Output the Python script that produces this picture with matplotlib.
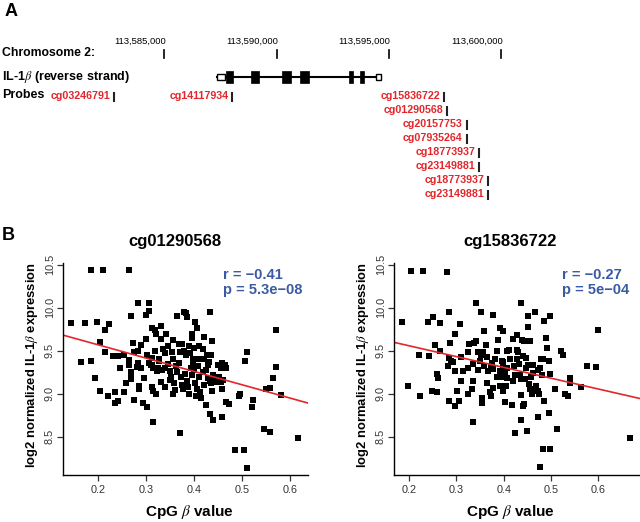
import numpy as np
import matplotlib
matplotlib.use('Agg')
import matplotlib.pyplot as plt
from matplotlib.patches import Rectangle

plt.rcParams['font.family'] = ['Liberation Sans', 'DejaVu Sans']
plt.rcParams['mathtext.fontset'] = 'stix'

# ---- panel A data ----
ruler_ticks = [113585000, 113590000, 113595000, 113600000]
gene_start, gene_end = 113587346, 113594648
utr_boxes = [(113587346, 113587703), (113594426, 113594648)]
exons = [(113587747, 113588059), (113588860, 113589216), (113590240, 113590641),
         (113591042, 113591443), (113593224, 113593402), (113593713, 113593891)]
probe_names = ['cg03246791', 'cg14117934', 'cg15836722', 'cg01290568', 'cg20157753',
               'cg07935264', 'cg18773937', 'cg23149881', 'cg18773937', 'cg23149881']
probe_pos = [113582774, 113588027, 113597452, 113597599, 113598463,
             113598463, 113599024, 113599024, 113599424, 113599424]
probe_row = [0, 0, 0, 1, 2, 3, 4, 5, 6, 7]

# ---- panel B data: cg01290568 ----
x1 = [0.186, 0.210, 0.265, 0.283, 0.305, 0.307, 0.268, 0.300, 0.144, 0.172,
      0.198, 0.222, 0.215, 0.312, 0.318, 0.330, 0.321, 0.331, 0.342, 0.300,
      0.355, 0.364, 0.379, 0.383, 0.386, 0.402, 0.406, 0.395, 0.396, 0.420,
      0.438, 0.432, 0.570, 0.204, 0.272, 0.290, 0.214, 0.232, 0.242, 0.275,
      0.283, 0.301, 0.312, 0.327, 0.340, 0.353, 0.368, 0.371, 0.375, 0.379,
      0.384, 0.392, 0.397, 0.405, 0.413, 0.421, 0.427, 0.428, 0.458, 0.465,
      0.467, 0.510, 0.506, 0.571, 0.165, 0.185, 0.264, 0.264, 0.284, 0.312,
      0.315, 0.324, 0.339, 0.311, 0.322, 0.334, 0.194, 0.204, 0.221, 0.235,
      0.235, 0.242, 0.253, 0.258, 0.269, 0.269, 0.269, 0.275, 0.285, 0.285,
      0.282, 0.293, 0.302, 0.314, 0.312, 0.315, 0.321, 0.349, 0.351, 0.355,
      0.359, 0.370, 0.372, 0.374, 0.376, 0.425, 0.433, 0.440, 0.458, 0.466,
      0.472, 0.494, 0.496, 0.522, 0.521, 0.546, 0.558, 0.616, 0.484, 0.503,
      0.510, 0.550, 0.557, 0.564, 0.580, 0.459, 0.460, 0.456, 0.380, 0.385,
      0.388, 0.390, 0.393, 0.395, 0.398, 0.400, 0.402, 0.403, 0.405, 0.407,
      0.410, 0.412, 0.414, 0.418, 0.420, 0.425, 0.428, 0.430, 0.432, 0.435,
      0.438, 0.440, 0.445, 0.448, 0.450, 0.452, 0.455, 0.345, 0.350, 0.357,
      0.362, 0.365, 0.368, 0.360, 0.340, 0.330, 0.326, 0.318, 0.305, 0.290,
      0.296, 0.255, 0.246, 0.435, 0.418, 0.410, 0.400, 0.390, 0.345, 0.335]
y1 = [10.44, 10.44, 10.44, 10.06, 10.06, 9.96, 9.90, 9.92, 9.82, 9.82,
      9.84, 9.81, 9.74, 9.77, 9.74, 9.79, 9.69, 9.64, 9.70, 9.64,
      9.62, 9.90, 9.95, 9.94, 9.89, 9.84, 9.76, 9.69, 9.65, 9.66,
      9.61, 9.95, 9.74, 9.60, 9.59, 9.57, 9.49, 9.44, 9.44, 9.48,
      9.50, 9.45, 9.42, 9.40, 9.47, 9.49, 9.58, 9.49, 9.58, 9.50,
      9.45, 9.47, 9.40, 9.40, 9.40, 9.41, 9.45, 9.33, 9.36, 9.33,
      9.30, 9.49, 9.38, 9.31, 9.37, 9.38, 9.39, 9.33, 9.36, 9.33,
      9.30, 9.30, 9.30, 9.34, 9.26, 9.28, 9.18, 9.03, 8.98, 9.02,
      8.89, 8.92, 9.02, 9.13, 9.17, 9.21, 9.25, 8.93, 9.05, 9.09,
      9.31, 8.89, 8.85, 8.67, 9.08, 9.03, 9.00, 9.16, 9.20, 9.00,
      9.12, 8.54, 9.20, 9.10, 9.06, 8.87, 8.77, 8.70, 8.73, 8.91,
      8.88, 8.97, 9.00, 8.93, 8.85, 8.59, 8.56, 8.49, 8.35, 8.35,
      8.14, 9.06, 9.07, 9.18, 8.99, 9.05, 9.16, 9.30, 9.23, 9.15,
      9.08, 9.00, 9.30, 9.22, 9.35, 9.28, 9.12, 8.97, 9.05, 9.32,
      9.20, 9.02, 8.95, 9.25, 9.10, 9.28, 9.18, 9.37, 9.15, 9.12,
      9.03, 9.22, 9.17, 9.14, 9.33, 9.19, 9.14, 9.35, 9.26, 9.40,
      9.32, 9.25, 9.36, 9.04, 9.08, 9.14, 9.38, 9.50, 9.36, 9.30,
      9.18, 9.45, 9.30, 9.45, 9.52, 9.55, 9.53, 9.56, 9.55, 9.52]

# ---- panel B data: cg15836722 ----
x2 = [0.204, 0.229, 0.281, 0.185, 0.198, 0.223, 0.220, 0.243, 0.250, 0.240,
      0.265, 0.285, 0.255, 0.248, 0.258, 0.259, 0.260, 0.266, 0.287, 0.297,
      0.307, 0.284, 0.288, 0.292, 0.282, 0.297, 0.310, 0.285, 0.296, 0.306,
      0.301, 0.310, 0.324, 0.332, 0.325, 0.326, 0.334, 0.335, 0.337, 0.342,
      0.341, 0.351, 0.346, 0.352, 0.356, 0.345, 0.353, 0.355, 0.358, 0.359,
      0.362, 0.365, 0.371, 0.372, 0.376, 0.374, 0.378, 0.381, 0.385, 0.388,
      0.392, 0.392, 0.396, 0.398, 0.396, 0.399, 0.398, 0.402, 0.398, 0.402,
      0.406, 0.405, 0.412, 0.417, 0.419, 0.421, 0.424, 0.420, 0.424, 0.427,
      0.431, 0.429, 0.433, 0.429, 0.434, 0.437, 0.436, 0.438, 0.443, 0.436,
      0.437, 0.440, 0.442, 0.448, 0.452, 0.448, 0.450, 0.452, 0.452, 0.454,
      0.455, 0.459, 0.455, 0.457, 0.461, 0.462, 0.465, 0.466, 0.469, 0.472,
      0.475, 0.473, 0.476, 0.473, 0.476, 0.478, 0.482, 0.480, 0.484, 0.497,
      0.486, 0.486, 0.489, 0.491, 0.495, 0.498, 0.496, 0.498, 0.509, 0.512,
      0.520, 0.526, 0.529, 0.536, 0.540, 0.541, 0.563, 0.575, 0.596, 0.599,
      0.666, 0.325, 0.314, 0.335, 0.364, 0.367, 0.378, 0.385, 0.392, 0.407,
      0.413, 0.441, 0.445, 0.406, 0.378, 0.350]
y2 = [10.43, 10.43, 10.42, 9.83, 9.09, 8.97, 9.45, 9.44, 9.89, 9.84,
      9.82, 9.95, 9.57, 9.03, 9.02, 9.23, 9.18, 9.50, 9.59, 9.70,
      9.81, 9.42, 9.38, 9.37, 9.32, 9.27, 9.43, 8.92, 8.86, 8.92,
      9.03, 9.15, 9.00, 9.05, 9.48, 9.58, 9.15, 8.67, 9.59, 9.61,
      10.05, 9.95, 9.48, 9.45, 9.49, 9.28, 8.95, 8.89, 9.73, 9.32,
      9.57, 9.12, 9.02, 9.31, 9.36, 8.97, 9.92, 9.41, 9.50, 9.63,
      9.77, 9.09, 9.20, 9.73, 9.38, 9.37, 9.30, 9.24, 9.03, 8.90,
      9.18, 9.09, 9.51, 8.87, 9.64, 9.32, 9.22, 9.15, 8.54, 9.51,
      9.49, 9.40, 9.35, 9.68, 9.22, 9.17, 8.99, 9.63, 9.61, 10.05,
      8.70, 8.86, 8.88, 9.30, 9.33, 9.42, 8.57, 9.90, 9.78, 9.11,
      9.05, 9.00, 9.61, 9.20, 9.24, 9.34, 9.95, 9.06, 9.09, 9.03,
      9.00, 9.28, 9.30, 8.73, 8.15, 9.41, 9.41, 9.22, 8.36, 8.36,
      8.92, 9.85, 9.65, 9.53, 9.38, 9.90, 8.78, 9.23, 9.05, 8.59,
      9.50, 9.45, 9.00, 8.98, 9.18, 9.12, 9.08, 9.32, 9.31, 9.74,
      8.49, 9.30, 9.27, 9.35, 9.43, 9.27, 9.29, 9.20, 9.26, 9.30,
      9.40, 9.44, 9.17, 9.50, 9.07, 9.38]

titles = ['cg01290568', 'cg15836722']
r_labels = ['r = \u22120.41', 'r = \u22120.27']
p_labels = ['p = 5.3e\u221208', 'p = 5e\u221204']
yticks = [8.5, 9.0, 9.5, 10.0, 10.5]
xticks = [0.2, 0.3, 0.4, 0.5, 0.6]

red = '#e3262c'
blue = '#3a5ba3'
W, H = 640, 522

fig = plt.figure(figsize=(W / 100, H / 100), dpi=100)

# ---------------- panel A ----------------
bp_per_px = 5000 / 112.3
x_left = ruler_ticks[0] - 164.3 * bp_per_px
ax = fig.add_axes([0, 1 - 210 / H, 1, 210 / H])
ax.set_xlim(x_left, x_left + W * bp_per_px)
ax.set_ylim(210, 0)
ax.axis('off')

fig.text(5 / W, 1 - 12 / H, 'A', fontsize=13, fontweight='bold', va='center')
lab_tr = ax.get_yaxis_transform()
ax.text(0.003, 53, 'Chromosome 2:', transform=lab_tr, fontsize=8.8,
        fontweight='bold', va='center')
ax.text(0.003, 77, 'IL-1$\\beta$ (reverse strand)', transform=lab_tr, fontsize=9,
        fontweight='bold', va='center')
ax.text(0.003, 95, 'Probes', transform=lab_tr, fontsize=9,
        fontweight='bold', va='center')

for p in ruler_ticks:
    ax.plot([p, p], [50, 57.5], color='black', lw=1.2)
    ax.text(p + 60, 41, f'{p:,}', ha='right', va='center', fontsize=6.8)

ax.plot([gene_start, gene_end], [77, 77], color='black', lw=1.5, zorder=1)
for s, e in exons:
    ax.add_patch(Rectangle((s, 71), e - s, 12, fc='black', ec='black', lw=0.5, zorder=2))
for s, e in utr_boxes:
    ax.add_patch(Rectangle((s, 74), e - s, 6, fc='white', ec='black', lw=1, zorder=2))

for name, pos, row in zip(probe_names, probe_pos, probe_row):
    yc = 96.7 + row * 14.1
    ax.plot([pos, pos], [yc - 4, yc + 4], color='#222222', lw=1.5)
    ax.text(pos - 4 * bp_per_px, yc - 1, name, ha='right', va='center',
            fontsize=7.7, fontweight='bold', color=red)

# ---------------- panel B ----------------
fig.text(2 / W, 1 - 235 / H, 'B', fontsize=13, fontweight='bold', va='center')

panels = [
    (x1, y1, [63 / W, 47 / H, 245 / W, 212 / H], (0.127, 0.637), 0.457, 0.652, 0.515),
    (x2, y2, [394 / W, 47 / H, 246 / W, 212 / H], (0.168, 0.688), 0.472, 0.683, 0.472),
]

for i, (xs, ys, rect, xlim, tx, sx, xlx) in enumerate(panels):
    a = fig.add_axes(rect)
    xs = np.array(xs)
    ys = np.array(ys)
    a.plot(xs, ys, 's', ms=3.7, color='black', mew=0)
    slope, icpt = np.polyfit(xs, ys, 1)
    lx = np.array(xlim)
    a.plot(lx, icpt + slope * lx, color=red, lw=1.2)
    a.set_xlim(*xlim)
    a.set_ylim(8.056, 10.52)
    for sp in ['top', 'right']:
        a.spines[sp].set_visible(False)
    for sp in ['left', 'bottom']:
        a.spines[sp].set_linewidth(1.0)
    a.set_xticks(xticks)
    a.set_xticklabels([f'{v:.1f}' for v in xticks])
    a.set_yticks(yticks)
    a.set_yticklabels([f'{v:.1f}' for v in yticks], rotation=90, va='center')
    a.tick_params(length=4, width=0.9, labelsize=7.8, pad=3, colors='#333333')
    a.tick_params(axis='y', pad=2)
    a.text(tx, 1.10, titles[i], transform=a.transAxes, ha='center', va='center',
           fontsize=12, fontweight='bold')
    a.text(sx, 0.943, r_labels[i], transform=a.transAxes, ha='left', va='center',
           fontsize=10.5, fontweight='bold', color=blue)
    a.text(sx, 0.873, p_labels[i], transform=a.transAxes, ha='left', va='center',
           fontsize=10.5, fontweight='bold', color=blue)
    a.text(xlx, -0.175, 'CpG $\\beta$ value', transform=a.transAxes, ha='center',
           va='center', fontsize=11, fontweight='bold')
    a.text(-0.128, 0.516, 'log2 normalized IL-1$\\beta$ expression', transform=a.transAxes,
           ha='center', va='center', rotation=90, fontsize=9.4, fontweight='bold')

fig.savefig('out.png', dpi=100)
